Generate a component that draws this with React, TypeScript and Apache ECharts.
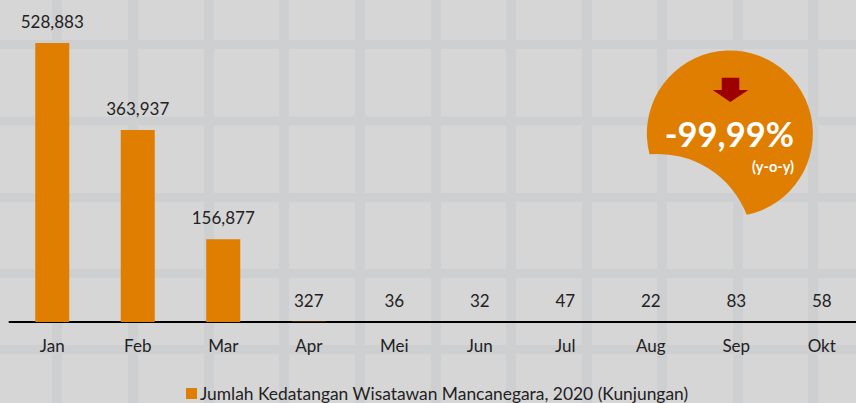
import React, { useEffect, useRef } from "react";
import * as echarts from "echarts";

const categories = ["Jan", "Feb", "Mar", "Apr", "Mei", "Jun", "Jul", "Aug", "Sep", "Okt"];
const arrivals = [528883, 363937, 156877, 327, 36, 32, 47, 22, 83, 58];
const seriesName = "Jumlah Kedatangan Wisatawan Mancanegara, 2020 (Kunjungan)";
const bgVerticals = [57, 133, 209, 284, 360, 436, 511, 587, 662, 738, 813];
const bgHorizontals = [44.5, 121, 197.5, 273.5, 349.5];
const FONT = "Lato";
const ORANGE = "#DF7E00";

const BLOB_PATH = "M649.5 154.3 A83 83 0 1 1 746.7 214.8 A95 95 0 0 0 649.5 154.3 Z";

export default function App() {
  const ref = useRef<HTMLDivElement>(null);
  useEffect(() => {
    document.body.style.margin = "0";
    echarts.graphic.registerShape("blob", echarts.graphic.extendPath(BLOB_PATH, {}) as any);
    const chart = echarts.init(ref.current!, null, { renderer: "svg" });
    const bgColor = "#CDCFD1";
    chart.setOption({
      animation: false,
      backgroundColor: "#D6D6D6",
      textStyle: { fontFamily: FONT },
      grid: { left: 9.5, width: 855, top: 5.5, height: 316.5, containLabel: false, outerBoundsMode: "none" },
      legend: {
        left: 186,
        top: 385,
        itemWidth: 11,
        itemHeight: 11,
        itemGap: 0,
        icon: "rect",
        padding: 0,
        textStyle: { fontFamily: FONT, fontSize: 17.4, color: "#222", padding: [0, 0, 0, -2] },
        data: [seriesName],
      },
      xAxis: {
        type: "category",
        data: categories,
        axisTick: { show: false },
        axisLine: { lineStyle: { color: "#000", width: 2 } },
        axisLabel: { color: "#222", fontSize: 17, fontFamily: FONT, margin: 15 },
      },
      yAxis: { type: "value", min: 0, max: 600000, show: false },
      series: [
        {
          name: seriesName,
          type: "bar",
          data: arrivals,
          barWidth: 34,
          itemStyle: { color: ORANGE },
          label: {
            show: true,
            position: "top",
            distance: 13,
            color: "#222",
            fontSize: 17,
            fontFamily: FONT,
            formatter: (p: any) => Number(p.value).toLocaleString("en-US"),
          },
        },
      ],
      graphic: [
        ...bgVerticals.map((x) => ({
          type: "rect",
          z: 0,
          silent: true,
          shape: { x: x - 5, y: 0, width: 10, height: 403 },
          style: { fill: bgColor },
        })),
        ...bgHorizontals.map((y) => ({
          type: "rect",
          z: 0,
          silent: true,
          shape: { x: 0, y: y - 4.5, width: 856, height: 9 },
          style: { fill: bgColor },
        })),
        { type: "blob", z: 10, silent: true, style: { fill: ORANGE } },
        {
          type: "polygon",
          z: 11,
          silent: true,
          shape: {
            points: [
              [721.7, 77.7],
              [739.3, 77.7],
              [739.3, 90],
              [748.3, 90],
              [730.3, 102],
              [712.7, 90],
              [721.7, 90],
            ],
          },
          style: { fill: "#9C0000" },
        },
        {
          type: "text",
          z: 11,
          silent: true,
          x: 794,
          y: 133,
          style: {
            text: "-99,99%",
            fill: "#fff",
            font: `bold 34.5px ${FONT}`,
            textAlign: "right",
            textVerticalAlign: "middle",
          },
        },
        {
          type: "text",
          z: 11,
          silent: true,
          x: 794,
          y: 166,
          style: {
            text: "(y-o-y)",
            fill: "#fff",
            font: `bold 14.5px ${FONT}`,
            textAlign: "right",
            textVerticalAlign: "middle",
          },
        },
      ],
    });
    return () => chart.dispose();
  }, []);
  return <div ref={ref} style={{ width: 856, height: 403 }} />;
}
